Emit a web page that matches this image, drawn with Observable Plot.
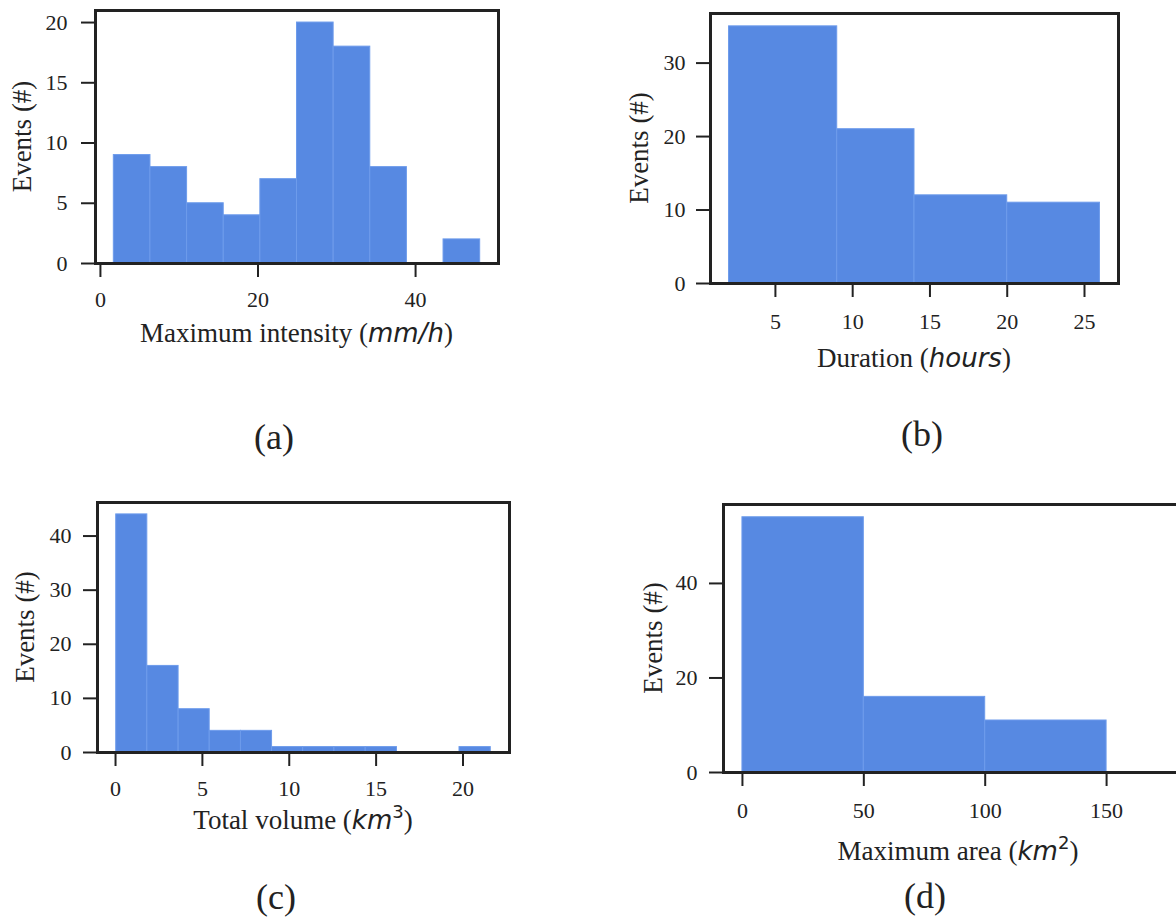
<!DOCTYPE html>
<html>
<head>
<meta charset="utf-8">
<script src="https://cdn.jsdelivr.net/npm/d3@7"></script>
<script src="https://cdn.jsdelivr.net/npm/@observablehq/plot@0.6"></script>
<style>
html, body { margin: 0; padding: 0; background: #fff; overflow: hidden; }
#fig { position: relative; width: 1176px; height: 921px; overflow: hidden; background: #fff; }
.panel { position: absolute; }
</style>
</head>
<body>
<div id="fig"></div>
<script>
// ---------- data ----------
const intensityEdges  = [1.7, 6.35, 11.0, 15.65, 20.3, 24.95, 29.6, 34.25, 38.9, 43.55, 48.2];
const intensityCounts = [9, 8, 5, 4, 7, 20, 18, 8, 0, 2];
const intensityXTicks = [0, 20, 40];
const intensityYTicks = [0, 5, 10, 15, 20];

const durationEdges  = [2, 9, 14, 20, 26];
const durationCounts = [35, 21, 12, 11];
const durationXTicks = [5, 10, 15, 20, 25];
const durationYTicks = [0, 10, 20, 30];

const volumeEdges  = [0.04, 1.83, 3.63, 5.42, 7.22, 9.01, 10.8, 12.6, 14.4, 16.2, 18.0, 19.8, 21.6];
const volumeCounts = [44, 16, 8, 4, 4, 1, 1, 1, 1, 0, 0, 1];
const volumeXTicks = [0, 5, 10, 15, 20];
const volumeYTicks = [0, 10, 20, 30, 40];

const areaEdges  = [0, 50, 100, 150];
const areaCounts = [54, 16, 11];
const areaXTicks = [0, 50, 100, 150];
const areaYTicks = [0, 20, 40];
const areaXDomain = [-7.8, 185.8];

const yLabelText = "Events (#)";
const intensityLabel = [["Maximum intensity (", "serif"], ["mm/h", "math"], [")", "serif"]];
const durationLabel  = [["Duration (", "serif"], ["hours", "math"], [")", "serif"]];
const volumeLabel    = [["Total volume (", "serif"], ["km", "math"], ["3", "sup"], [")", "serif"]];
const areaLabel      = [["Maximum area (", "serif"], ["km", "math"], ["2", "sup"], [")", "serif"]];
const panelLetters   = ["(a)", "(b)", "(c)", "(d)"];

// ---------- styling ----------
const BAR = "#5789e2";
const BAR_EDGE = "#6d9beb";
const INK = "#222222";
const SERIF = "'Liberation Serif', 'Times New Roman', serif";
const MATH = "'DejaVu Sans', sans-serif";

function panel(cfg) {
  const {left, top, width, height, mL, mR, mT, mB, edges, counts, xTicks, yTicks,
         xDomain, xLabel, letter, yLabX, xLabBase, letterX, letterBase, padX, padY} = cfg;
  const bins = counts.map((c, i) => ({x1: edges[i], x2: edges[i + 1], count: c}))
                     .filter(d => d.count > 0);
  const lo = edges[0], hi = edges[edges.length - 1], pad = (hi - lo) * 0.05;
  const chart = Plot.plot({
    width, height,
    marginLeft: mL, marginRight: mR, marginTop: mT, marginBottom: mB,
    x: {domain: xDomain ?? [lo - pad, hi + pad]},
    y: {domain: [0, d3.max(counts) * 1.05]},
    style: {fontFamily: SERIF, fontSize: "22px", color: INK, background: "#fff", maxWidth: "none", overflow: "visible"},
    marks: [
      Plot.rectY(bins, {x1: "x1", x2: "x2", y: "count", fill: BAR, stroke: BAR_EDGE, strokeWidth: 1}),
      Plot.frame({stroke: INK, strokeWidth: 3}),
      Plot.axisX({ticks: xTicks, tickSize: 14, tickPadding: padX, strokeWidth: 2, label: null, tickFormat: d => String(d)}),
      Plot.axisY({ticks: yTicks, tickSize: 14, tickPadding: padY, strokeWidth: 2, label: null, tickFormat: d => String(d)})
    ]
  });
  const svg = d3.select(chart);
  const cx = (mL + (width - mR)) / 2;
  const cy = (mT + (height - mB)) / 2;

  // x axis label with mixed fonts
  const xt = svg.append("text")
    .attr("x", cx).attr("y", xLabBase)
    .attr("text-anchor", "middle")
    .attr("fill", INK)
    .style("font-size", "27px")
    .style("font-family", SERIF);
  let raised = false;
  xLabel.forEach(([t, kind]) => {
    const ts = xt.append("tspan").text(t);
    if (kind === "math") {
      ts.style("font-family", MATH).style("font-style", "italic").style("font-size", "26px");
      if (raised) { ts.attr("dy", 11); raised = false; }
    } else if (kind === "sup") {
      ts.style("font-family", MATH).style("font-size", "18px").attr("dy", -11);
      raised = true;
    } else {
      if (raised) { ts.attr("dy", 11); raised = false; }
    }
  });

  // y axis label
  svg.append("text")
    .attr("transform", `translate(${yLabX},${cy}) rotate(-90)`)
    .attr("text-anchor", "middle")
    .attr("dy", "0.35em")
    .attr("fill", INK)
    .style("font-size", "27px")
    .style("font-family", SERIF)
    .text(yLabelText);

  // panel letter
  svg.append("text")
    .attr("x", letterX).attr("y", letterBase)
    .attr("text-anchor", "middle")
    .attr("fill", INK)
    .style("font-size", "36px")
    .style("font-family", SERIF)
    .text(letter);

  const wrap = document.createElement("div");
  wrap.className = "panel";
  wrap.style.left = left + "px";
  wrap.style.top = top + "px";
  wrap.style.width = width + "px";
  wrap.style.height = height + "px";
  wrap.appendChild(chart);
  document.getElementById("fig").appendChild(wrap);
}

panel({left: 0, top: 0, width: 560, height: 470, mL: 95, mR: 62, mT: 10, mB: 207,
  edges: intensityEdges, counts: intensityCounts, xTicks: intensityXTicks, yTicks: intensityYTicks,
  xLabel: intensityLabel, letter: panelLetters[0], yLabX: 22, xLabBase: 342, letterX: 274, letterBase: 449, padX: 14, padY: 14});

panel({left: 600, top: 0, width: 576, height: 470, mL: 110, mR: 58, mT: 13, mB: 187,
  edges: durationEdges, counts: durationCounts, xTicks: durationXTicks, yTicks: durationYTicks,
  xLabel: durationLabel, letter: panelLetters[1], yLabX: 39, xLabBase: 367, letterX: 322, letterBase: 446, padX: 16, padY: 11});

panel({left: 0, top: 470, width: 560, height: 451, mL: 97, mR: 51, mT: 32, mB: 169,
  edges: volumeEdges, counts: volumeCounts, xTicks: volumeXTicks, yTicks: volumeYTicks,
  xLabel: volumeLabel, letter: panelLetters[2], yLabX: 25, xLabBase: 359, letterX: 276, letterBase: 439, padX: 14, padY: 12});

panel({left: 600, top: 470, width: 600, height: 451, mL: 123, mR: 7, mT: 34, mB: 149,
  edges: areaEdges, counts: areaCounts, xTicks: areaXTicks, yTicks: areaYTicks, xDomain: areaXDomain,
  xLabel: areaLabel, letter: panelLetters[3], yLabX: 53, xLabBase: 390, letterX: 325, letterBase: 438, padX: 16, padY: 12});
</script>
</body>
</html>
